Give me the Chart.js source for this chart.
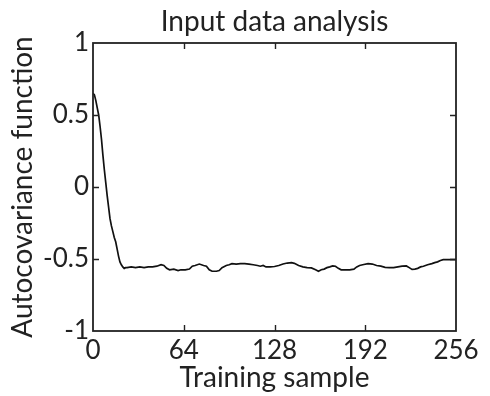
<!DOCTYPE html>
<html>
<head>
<meta charset="utf-8">
<script src="https://cdn.jsdelivr.net/npm/chart.js@4"></script>
<style>
html,body{margin:0;padding:0;background:#fff;}
#wrap{width:490px;height:396px;}
</style>
</head>
<body>
<div id="wrap"><canvas id="c" width="490" height="396"></canvas></div>
<script>
const sampleX = [0,1,2,3,4,5,6,7,8,9,10,11,12,13,14,15,16,17,18,19,20,21,22,23,
  24,27,30,33,36,39,42,45,48,50,52,54,57,60,62,65,68,70,72,75,78,80,82,84,87,89,91,94,96,98,
  101,104,107,110,113,116,118,120,122,125,128,131,134,137,140,142,145,148,151,154,157,159,161,163,165,167,169,171,173,175,178,181,184,186,188,191,194,197,
  200,203,206,209,212,215,218,221,223,225,227,229,231,233,236,239,241,243,245,247,250,253,256];
const autocov = [0.65,0.64,0.60,0.55,0.50,0.42,0.33,0.22,0.12,0.03,-0.06,-0.14,-0.22,-0.27,-0.31,-0.35,-0.38,-0.43,-0.48,-0.52,-0.54,-0.555,-0.565,-0.56,
  -0.56,-0.555,-0.56,-0.555,-0.56,-0.555,-0.555,-0.55,-0.54,-0.545,-0.565,-0.575,-0.57,-0.58,-0.575,-0.575,-0.57,-0.55,-0.545,-0.535,-0.545,-0.55,-0.575,-0.585,-0.585,-0.58,-0.56,-0.545,-0.54,-0.532,
  -0.535,-0.532,-0.532,-0.535,-0.54,-0.545,-0.55,-0.545,-0.555,-0.555,-0.552,-0.545,-0.535,-0.528,-0.525,-0.53,-0.545,-0.555,-0.56,-0.562,-0.575,-0.585,-0.575,-0.57,-0.56,-0.555,-0.548,-0.55,-0.565,-0.575,-0.575,-0.575,-0.57,-0.555,-0.545,-0.538,-0.532,-0.535,
  -0.545,-0.55,-0.558,-0.56,-0.56,-0.555,-0.55,-0.548,-0.56,-0.572,-0.57,-0.565,-0.555,-0.55,-0.54,-0.532,-0.525,-0.52,-0.51,-0.505,-0.505,-0.505,-0.505];
const xTicks = [0,64,128,192,256];
const yTicks = [-1,-0.5,0,0.5,1];
const titleText = 'Input data analysis';
const xTitle = 'Training sample';
const yTitle = 'Autocovariance function';

const FONT = 'Lato';
const boxPlugin = {
  id:'box',
  afterDraw(chart){
    const {ctx, chartArea:a, scales:{x,y}} = chart;
    ctx.save();
    ctx.strokeStyle='#222'; ctx.lineWidth=1.8;
    ctx.strokeRect(a.left, a.top, a.right-a.left, a.bottom-a.top);
    const L=6;
    ctx.beginPath();
    x.ticks.forEach(t=>{ if(t.value>x.min && t.value<x.max){ const px=Math.round(x.getPixelForValue(t.value))+0.5;
      ctx.moveTo(px,a.bottom); ctx.lineTo(px,a.bottom-L); ctx.moveTo(px,a.top); ctx.lineTo(px,a.top+L);} });
    y.ticks.forEach(t=>{ if(t.value>y.min && t.value<y.max){ const py=Math.round(y.getPixelForValue(t.value))+0.5;
      ctx.moveTo(a.left,py); ctx.lineTo(a.left+L,py); ctx.moveTo(a.right,py); ctx.lineTo(a.right-L,py);} });
    ctx.lineWidth=1.4;
    ctx.stroke(); ctx.restore();
  }
};

new Chart(document.getElementById('c'), {
  type:'scatter',
  data:{datasets:[{data: sampleX.map((v,i)=>({x:v,y:autocov[i]})), showLine:true, pointRadius:0, borderColor:'#111', borderWidth:1.7, tension:0}]},
  options:{
    responsive:false, animation:false, events:[],
    layout:{padding:{right:34,left:0,top:0,bottom:0}},
    plugins:{
      legend:{display:false}, tooltip:{enabled:false},
      title:{display:true, text:titleText, fullSize:false, color:'#222', font:{family:FONT,size:28,weight:'normal',lineHeight:1}, padding:{top:8,bottom:7}}
    },
    scales:{
      x:{type:'linear', min:0, max:256, afterBuildTicks:s=>{s.ticks=xTicks.map(v=>({value:v}));},
        grid:{display:false, drawTicks:false}, border:{display:false},
        ticks:{color:'#222', font:{family:FONT,size:26}, padding:4, maxRotation:0, autoSkip:false, callback:v=>String(v)},
        title:{display:true, text:xTitle, color:'#222', font:{family:FONT,size:28,lineHeight:1.2}, padding:{top:0,bottom:1}},
        afterFit:s=>{s.height=65;}},
      y:{type:'linear', min:-1, max:1, afterBuildTicks:s=>{s.ticks=yTicks.map(v=>({value:v}));},
        grid:{display:false, drawTicks:false}, border:{display:false},
        ticks:{color:'#222', font:{family:FONT,size:26}, padding:4, autoSkip:false, callback:v=>String(v)},
        title:{display:true, text:yTitle, color:'#222', font:{family:FONT,size:28,lineHeight:1.2}, padding:{top:6,bottom:0}},
        afterFit:s=>{s.width=93;}}
    }
  },
  plugins:[boxPlugin]
});
</script>
</body>
</html>
